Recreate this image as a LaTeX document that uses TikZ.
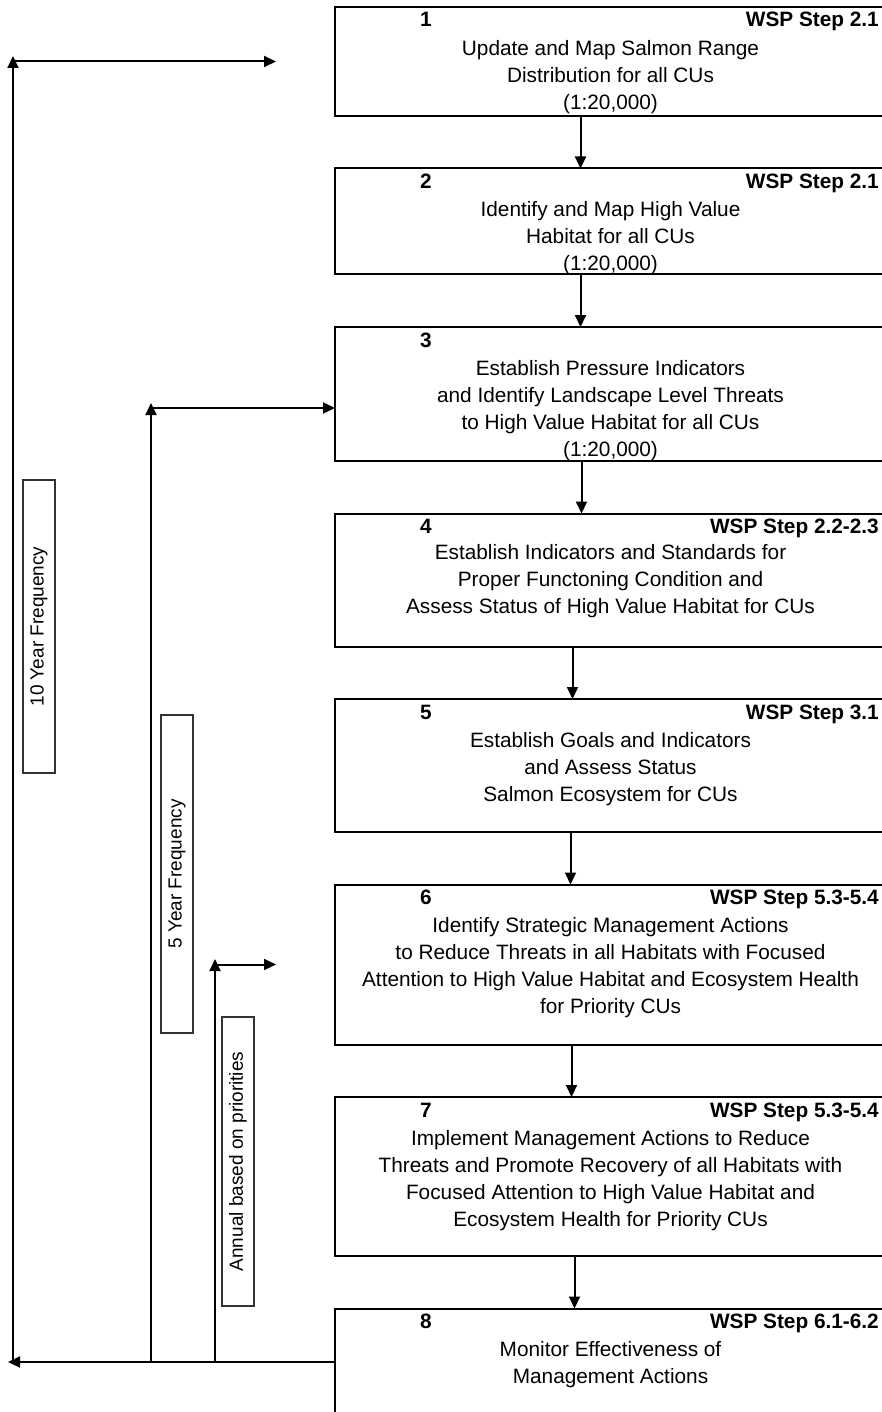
\documentclass[tikz,border=0pt]{standalone}
\usepackage{fontspec}
\setmainfont{Liberation Sans}
\usetikzlibrary{arrows.meta, positioning}

\begin{document}
\begin{tikzpicture}[
    x=1pt, y=-1pt,
    >={Triangle[length=12pt, width=11pt]},
    font=\fontsize{20.8}{27}\selectfont,
    node distance=52.5pt,
    stepbox/.style={draw, line width=2pt, minimum width=551pt, inner sep=0pt, outer sep=0pt},
    body/.style={align=center, inner sep=0pt, anchor=north},
    num/.style={font=\fontsize{20.8}{27}\selectfont\bfseries, anchor=base, inner sep=0pt},
    wsp/.style={font=\fontsize{20.8}{27}\selectfont\bfseries, anchor=base east, inner sep=0pt},
    freq/.style={draw=black!80, line width=1.1pt, rotate=90, minimum height=32pt, inner sep=0pt, font=\fontsize{19}{22}\selectfont},
    arr/.style={->, line width=2pt},
]
\useasboundingbox (0,0) rectangle (882,1412);

% steps
\node[stepbox, minimum height=109pt] (b1) at (610.5,61.5) {};
\node[stepbox, minimum height=106pt, below=of b1] (b2) {};
\node[stepbox, minimum height=134pt, below=of b2] (b3) {};
\node[stepbox, minimum height=133pt, below=of b3] (b4) {};
\node[stepbox, minimum height=133pt, below=of b4] (b5) {};
\node[stepbox, minimum height=160pt, below=of b5] (b6) {};
\node[stepbox, minimum height=159pt, below=of b6] (b7) {};
\node[stepbox, minimum height=131pt, below=of b7] (b8) {};

\node[num] (n1) at ([xshift=91pt, yshift=-20pt]b1.north west) {1};
\node[wsp] (w1) at ([xshift=-7pt, yshift=-20pt]b1.north east) {WSP Step 2.1};
\node[body, below=29pt of b1.north] (t1) {\strut Update and Map Salmon Range\\Distribution for all CUs\\(1:20,000)};

\node[num] (n2) at ([xshift=91pt, yshift=-20pt]b2.north west) {2};
\node[wsp] (w2) at ([xshift=-7pt, yshift=-20pt]b2.north east) {WSP Step 2.1};
\node[body, below=29pt of b2.north] (t2) {\strut Identify and Map High Value\\Habitat for all CUs\\(1:20,000)};

\node[num] (n3) at ([xshift=91pt, yshift=-20pt]b3.north west) {3};
\node[body, below=29pt of b3.north] (t3) {\strut Establish Pressure Indicators\\and Identify Landscape Level Threats\\to High Value Habitat for all CUs\\(1:20,000)};

\node[num] (n4) at ([xshift=91pt, yshift=-20pt]b4.north west) {4};
\node[wsp] (w4) at ([xshift=-7pt, yshift=-20pt]b4.north east) {WSP Step 2.2-2.3};
\node[body, below=27pt of b4.north] (t4) {\strut Establish Indicators and Standards for\\Proper Functoning Condition and\\Assess Status of High Value Habitat for CUs};

\node[num] (n5) at ([xshift=91pt, yshift=-20pt]b5.north west) {5};
\node[wsp] (w5) at ([xshift=-7pt, yshift=-20pt]b5.north east) {WSP Step 3.1};
\node[body, below=29pt of b5.north] (t5) {\strut Establish Goals and Indicators\\and Assess Status\\Salmon Ecosystem for CUs};

\node[num] (n6) at ([xshift=91pt, yshift=-20pt]b6.north west) {6};
\node[wsp] (w6) at ([xshift=-7pt, yshift=-20pt]b6.north east) {WSP Step 5.3-5.4};
\node[body, below=29pt of b6.north] (t6) {\strut Identify Strategic Management Actions\\to Reduce Threats in all Habitats with Focused\\Attention to High Value Habitat and Ecosystem Health\\for Priority CUs};

\node[num] (n7) at ([xshift=91pt, yshift=-20pt]b7.north west) {7};
\node[wsp] (w7) at ([xshift=-7pt, yshift=-20pt]b7.north east) {WSP Step 5.3-5.4};
\node[body, below=29pt of b7.north] (t7) {\strut Implement Management Actions to Reduce\\Threats and Promote Recovery of all Habitats with\\Focused Attention to High Value Habitat and\\Ecosystem Health for Priority CUs};

\node[num] (n8) at ([xshift=91pt, yshift=-20pt]b8.north west) {8};
\node[wsp] (w8) at ([xshift=-7pt, yshift=-20pt]b8.north east) {WSP Step 6.1-6.2};
\node[body, below=29pt of b8.north] (t8) {\strut Monitor Effectiveness of\\Management Actions};

% flow down
\draw[arr] ([xshift=-30pt]b1.south) -- ([xshift=-30pt]b2.north);
\draw[arr] ([xshift=-30pt]b2.south) -- ([xshift=-30pt]b3.north);
\draw[arr] ([xshift=-29pt]b3.south) -- ([xshift=-29pt]b4.north);
\draw[arr] ([xshift=-38pt]b4.south) -- ([xshift=-38pt]b5.north);
\draw[arr] ([xshift=-40pt]b5.south) -- ([xshift=-40pt]b6.north);
\draw[arr] ([xshift=-39pt]b6.south) -- ([xshift=-39pt]b7.north);
\draw[arr] ([xshift=-36pt]b7.south) -- ([xshift=-36pt]b8.north);

% feedback loops
\coordinate (back) at (8,1362);
\coordinate (b8out) at (b8.west |- back);
\draw[arr] (b8out) -- (back);

\coordinate (tenlow) at (13,1362);
\coordinate (tentop) at (13,56);
\draw[arr] (tenlow) -- (tentop);
\draw[arr] (tentop |- b1.west) -- ([xshift=-59pt]b1.west);

\coordinate (fivelow) at (151,1362);
\coordinate (fivetop) at (151,403);
\coordinate (b3in) at ([yshift=-14pt]b3.west);
\draw[arr] (fivelow) -- (fivetop);
\draw[arr] (fivetop |- b3in) -- (b3in);

\coordinate (annlow) at (215,1362);
\coordinate (anntop) at (215,959);
\draw[arr] (annlow) -- (anntop);
\draw[arr] (anntop |- b6.west) -- ([xshift=-59pt]b6.west);

\node[freq, minimum width=293pt] (ten) at (39,626.5) {10 Year Frequency};
\node[freq, minimum width=318pt] (five) at (177,874) {5 Year Frequency};
\node[freq, minimum width=289pt] (ann) at (238,1161.5) {Annual based on priorities};
\end{tikzpicture}
\end{document}
